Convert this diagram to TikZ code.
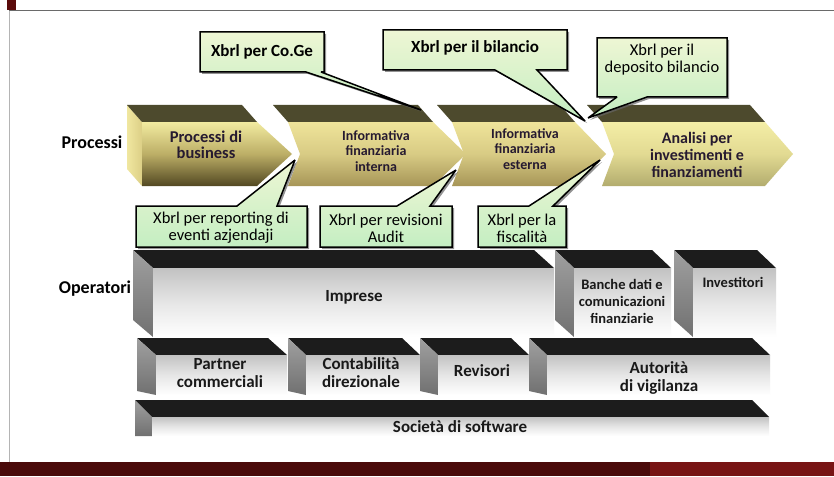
\documentclass[tikz,border=0pt]{standalone}
\usepackage{fontspec}
\setmainfont{Carlito}
\usetikzlibrary{shadows}
\definecolor{frameRed}{HTML}{5A0B0B}
\definecolor{bandDark}{HTML}{4A0A0A}
\definecolor{bandRight}{HTML}{781414}
\definecolor{frameLine}{HTML}{6A6A6A}
\definecolor{frameSide}{HTML}{B4B4B4}
\definecolor{procTop}{HTML}{4D4A2D}
\definecolor{ptxt}{HTML}{261A30}
\definecolor{cTop}{HTML}{EEF6D4}
\definecolor{cBot}{HTML}{C4EEC2}
\definecolor{opTop}{HTML}{1C1C1C}
\definecolor{opSideA}{HTML}{A0A0A0}
\definecolor{opSideB}{HTML}{707070}
\definecolor{opFrA}{HTML}{C2C2C2}
\definecolor{opFrB}{HTML}{E6E6E6}
\definecolor{pOneA}{HTML}{F2EBA0}
\definecolor{pOneB}{HTML}{BCAE66}
\definecolor{pOneC}{HTML}{524822}
\definecolor{pTwoA}{HTML}{EFE49A}
\definecolor{pTwoB}{HTML}{D8CB84}
\definecolor{pTwoC}{HTML}{A69557}
\definecolor{pFourA}{HTML}{F4EEA6}
\definecolor{pFourB}{HTML}{E2DA92}
\definecolor{pFourC}{HTML}{B2AC6E}
\definecolor{sideA}{HTML}{F0E7A0}
\definecolor{sideB}{HTML}{DCCF86}

\newcommand\chevron[5]{%
  \fill[procTop] ({#1-15},105) -- ({#3-15},105) -- (#3,122) -- (#1,122) -- cycle;
  \shade[#5] (#1,122) -- (#3,122) -- ({#3+#4},154) -- (#3,186) -- (#1,186) -- ({#1+#2},154) -- cycle;
}
% xs, xf, xr, ytop, yfront, ybottom, side bottom-left y
\newcommand\opbox[7]{%
  \fill[opTop] (#1,#4) -- ({#3-#2+#1},#4) -- (#3,#5) -- (#2,#5) -- cycle;
  \shade[top color=opSideA,bottom color=opSideB] (#1,#4) -- (#2,#5) -- (#2,#6) -- (#1,#7) -- cycle;
  \shade[top color=opFrA,bottom color=white,middle color=opFrB] (#2,#5) rectangle (#3,#6);
}

\tikzset{
  lbl/.style={font=\bfseries\fontsize{18}{20}\selectfont, text=black, inner sep=0pt},
  ptext/.style={font=\bfseries\fontsize{16.5}{16}\selectfont, text=ptxt, align=center, inner sep=0pt},
  ptextS/.style={font=\bfseries\fontsize{14}{15.5}\selectfont, text=ptxt, align=center, inner sep=0pt},
  ptextM/.style={font=\bfseries\fontsize{16}{17}\selectfont, text=ptxt, align=center, inner sep=0pt},
  otext/.style={font=\bfseries\fontsize{17}{18}\selectfont, text=black!90, align=center, inner sep=0pt},
  otextS/.style={font=\bfseries\fontsize{14.5}{17}\selectfont, text=black!90, align=center, inner sep=0pt},
  ctxtB/.style={font=\bfseries\fontsize{17}{17}\selectfont, text=black, align=center, inner sep=0pt},
  ctxt/.style={font=\fontsize{16.5}{17}\selectfont, text=black, align=center, inner sep=0pt},
  callout/.style={draw=black, line width=1.5pt, line join=miter, miter limit=3,
    top color=cTop, bottom color=cBot,
    drop shadow={shadow xshift=2pt, shadow yshift=-2pt, fill=black!60, opacity=0.7}},
  aOne/.style={top color=pOneA, bottom color=pOneC, middle color=pOneB},
  aTwo/.style={top color=pTwoA, bottom color=pTwoC, middle color=pTwoB},
  aFour/.style={top color=pFourA, bottom color=pFourC, middle color=pFourB}
}

\begin{document}
\begin{tikzpicture}[x=1pt,y=-1pt]
\useasboundingbox (0,0) rectangle (834,476);
\fill[white] (0,0) rectangle (834,476);

% frame
\draw[frameSide, line width=1pt] (9,10) -- (9,462);
\draw[frameLine, line width=1.2pt] (9,10.5) -- (834,10.5);
\fill[frameRed] (7,0) rectangle (16,10);
\fill[bandDark] (0,462) rectangle (834,476);
\fill[bandRight] (650,462) rectangle (834,476);

% row labels
\node[lbl] (lp) at (92,142) {Processi};
\node[lbl] (lo) at (95,289) {Operatori};

% process chevrons
\shade[left color=sideA, right color=sideB] (127,105) -- (142,122) -- (142,186) -- (127,169) -- cycle;
\chevron{142}{0}{257}{35}{aOne}
\chevron{288}{12}{433}{33}{aTwo}
\chevron{452}{12}{575}{31}{aTwo}
\chevron{602}{12}{765}{28}{aFour}

\node[ptext] (p1) at (206,145) {Processi di\\business};
\node[ptextS] (p2) at (376,151) {Informativa\\finanziaria\\interna};
\node[ptextS] (p3) at (525,149) {Informativa\\finanziaria\\esterna};
\node[ptextM] (p4) at (697,155) {Analisi per\\investimenti e\\finanziamenti};

% callouts above
\path[callout] (200,32) -- (324,32) -- (324,72) -- (321,72) -- (421,110) -- (306,72) -- (200,72) -- cycle;
\path[callout] (383,30) -- (567,30) -- (567,70) -- (537,70) -- (585,121) -- (495,70) -- (383,70) -- cycle;
\path[callout] (597,38) -- (727,38) -- (727,97) -- (647,97) -- (588,118) -- (617,97) -- (597,97) -- cycle;
% callouts below
\path[callout] (136,206) -- (237,206) -- (295,160) -- (277,206) -- (307,206) -- (307,247) -- (136,247) -- cycle;
\path[callout] (320,206) -- (397,206) -- (456,170) -- (430,206) -- (452,206) -- (452,247) -- (320,247) -- cycle;
\path[callout] (478,206) -- (529,206) -- (600,160) -- (553,206) -- (566,206) -- (566,247) -- (478,247) -- cycle;

\node[ctxtB] (tCoGe) at (262,52) {Xbrl per Co.Ge};
\node[ctxtB] (tBil) at (475,48) {Xbrl per il bilancio};
\node[ctxt] (tDep) at (662,60) {Xbrl per il\\deposito bilancio};
\node[ctxt] (tRep) at (221,228) {Xbrl per reporting di\\eventi azjendaji};
\node[ctxt] (tRev) at (386,228) {Xbrl per revisioni\\Audit};
\node[ctxt] (tFis) at (522,228) {Xbrl per la\\fiscalità};

% operator boxes
\opbox{133}{153}{554}{250}{268}{337}{320}
\opbox{555}{574}{671}{250}{268}{337}{320}
\opbox{674}{693}{776}{250}{268}{337}{320}
\opbox{137}{156}{287}{338}{355}{395}{391}
\opbox{288}{306}{420}{338}{355}{395}{391}
\opbox{420}{438}{529}{338}{355}{395}{391}
\opbox{529}{547}{770}{338}{355}{395}{391}
\opbox{135}{152}{769}{400}{417}{436}{436}

\node[otext] (o1) at (354,297) {Imprese};
\node[otextS] (o2) at (622,301) {Banche dati e\\comunicazioni\\finanziarie};
\node[otextS] (o3) at (733,282) {Investitori};
\node[otext] (o4) at (220,373) {Partner\\commerciali};
\node[otext] (o5) at (361,373) {Contabilità\\direzionale};
\node[otext] (o6) at (482,371) {Revisori};
\node[otext] (o7) at (659,378) {Autorità\\di vigilanza};
\node[otext] (o8) at (460,427) {Società di software};
\end{tikzpicture}
\end{document}
